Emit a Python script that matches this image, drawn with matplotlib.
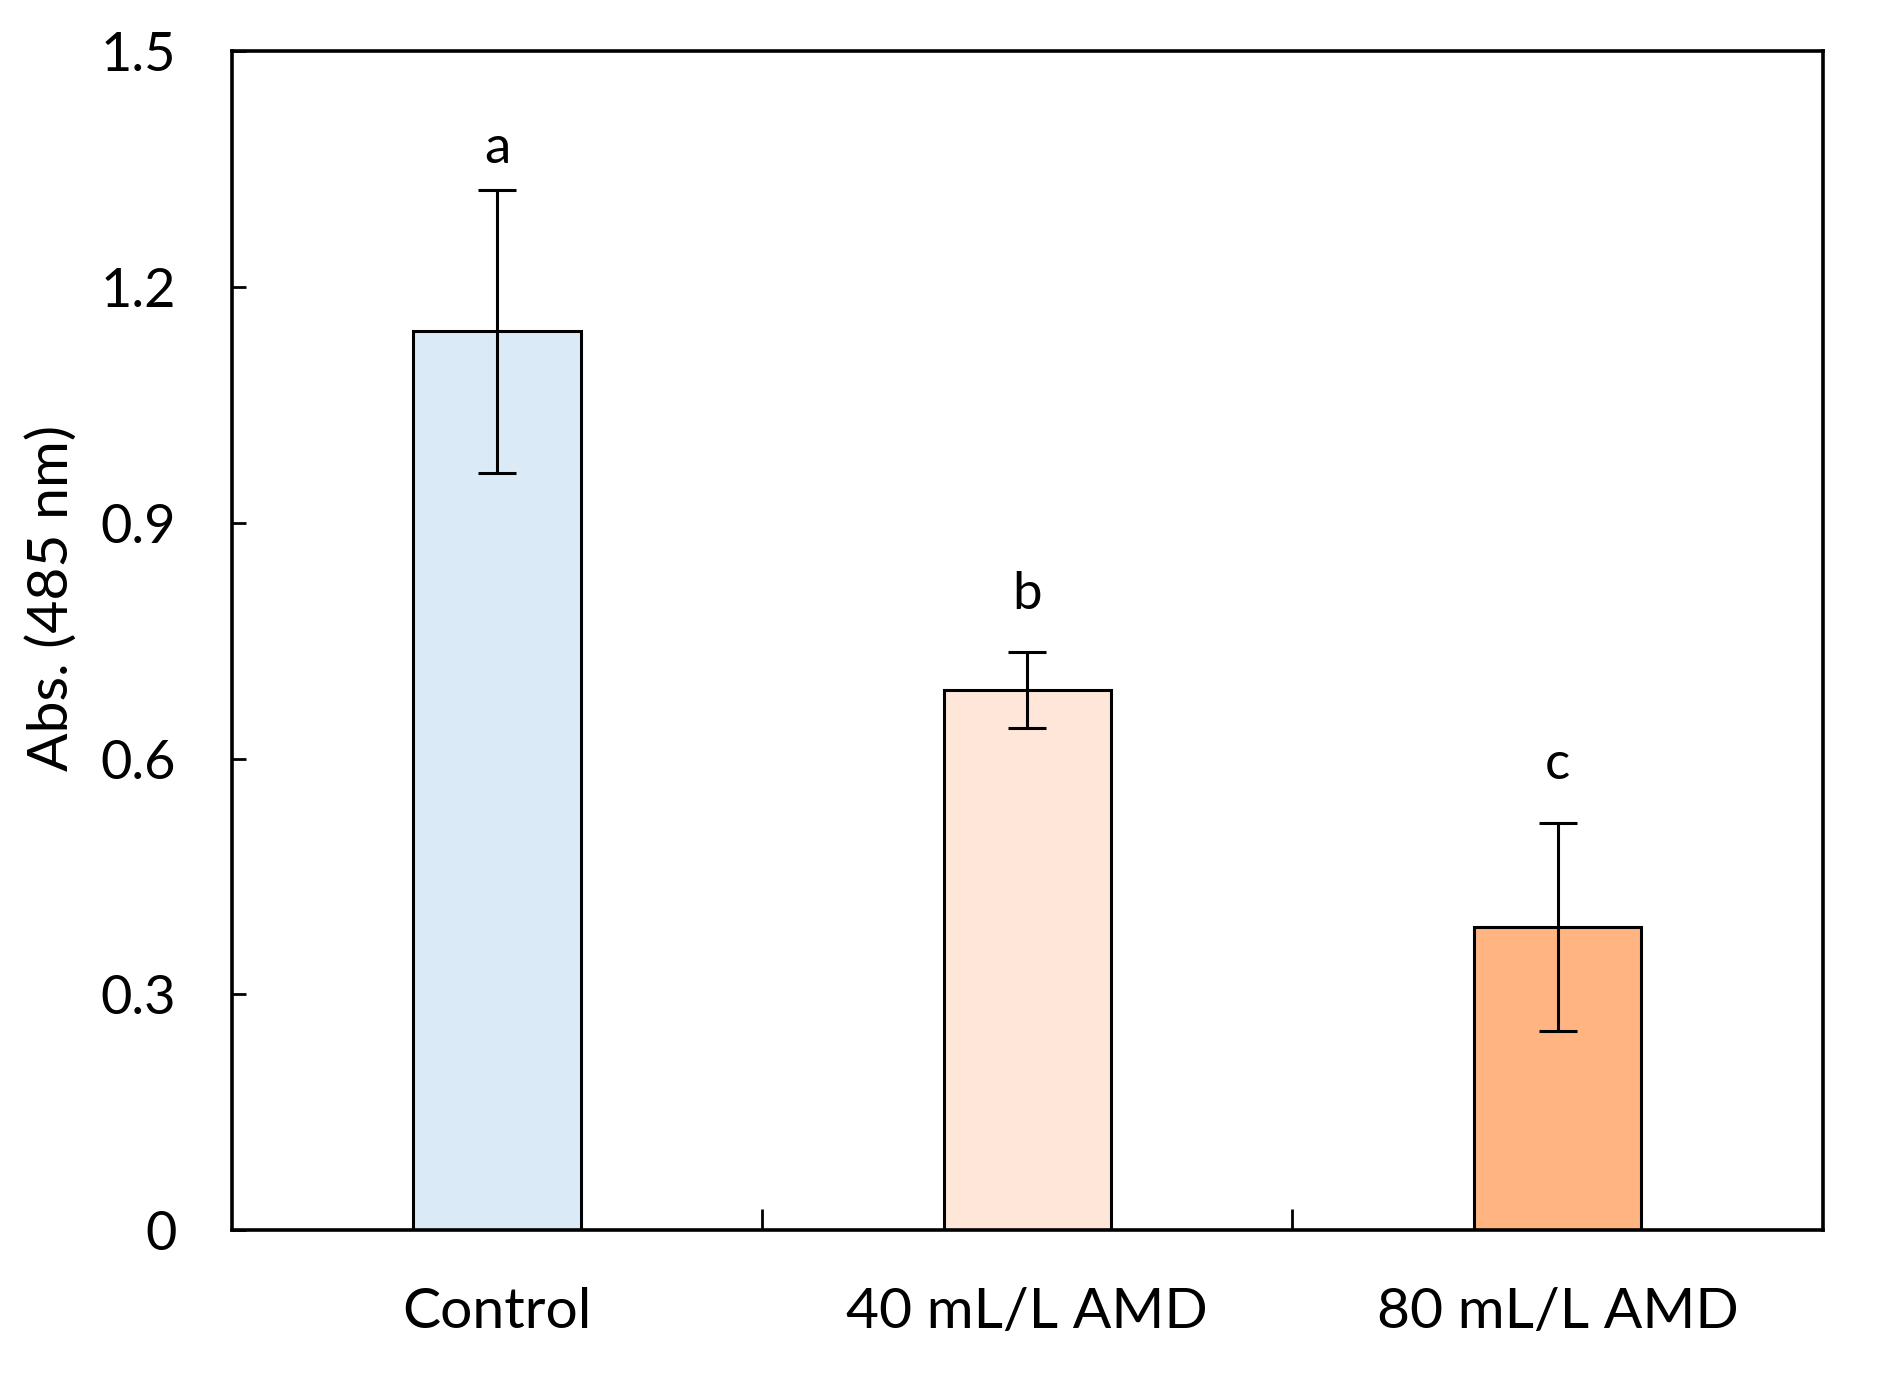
import matplotlib.pyplot as plt

# absorbance at 485 nm for each treatment
groups = ["Control", "40 mL/L AMD", "80 mL/L AMD"]
means = [1.143, 0.687, 0.386]
errors = [0.18, 0.048, 0.132]
letters = ["a", "b", "c"]
letter_y = [1.375, 0.808, 0.592]
colors = ["#DAEBF7", "#FEE6D8", "#FFB482"]
yticks = [0, 0.3, 0.6, 0.9, 1.2, 1.5]
ytick_labels = ["0", "0.3", "0.6", "0.9", "1.2", "1.5"]

plt.rcParams['font.family'] = ['Lato', 'DejaVu Sans']

fig = plt.figure(figsize=(18.85, 13.81), dpi=100)
ax = fig.add_axes([0.123, 0.109, 0.844, 0.8544])

x = range(len(groups))
ax.bar(x, means, width=0.315, color=colors, edgecolor='black', linewidth=2.2, zorder=2)
ax.errorbar(x, means, yerr=errors, fmt='none', ecolor='black', elinewidth=2.2,
            capsize=14, capthick=2.2, zorder=3)

# significance letters
for i, (ly, t) in enumerate(zip(letter_y, letters)):
    ax.text(i, ly, t, ha='center', va='center', fontsize=38)

ax.set_xlim(-0.5, 2.5)
ax.set_ylim(0, 1.5)
ax.set_yticks(yticks)
ax.set_yticklabels(ytick_labels)
ax.set_xticks([0.5, 1.5])
ax.set_xticklabels([])
ax.set_xticks(list(x), minor=True)
ax.set_xticklabels(groups, minor=True)
ax.tick_params(axis='x', which='major', direction='in', length=15, width=2)
ax.tick_params(axis='x', which='minor', length=0, pad=41, labelsize=41)
ax.tick_params(axis='y', direction='in', length=10, width=2, labelsize=39, pad=40)
ax.set_ylabel("Abs. (485 nm)", fontsize=41)
ax.yaxis.set_label_coords(-0.097, 0.536)

for s in ax.spines.values():
    s.set_linewidth(2.6)

fig.savefig("out.png", dpi=100)
